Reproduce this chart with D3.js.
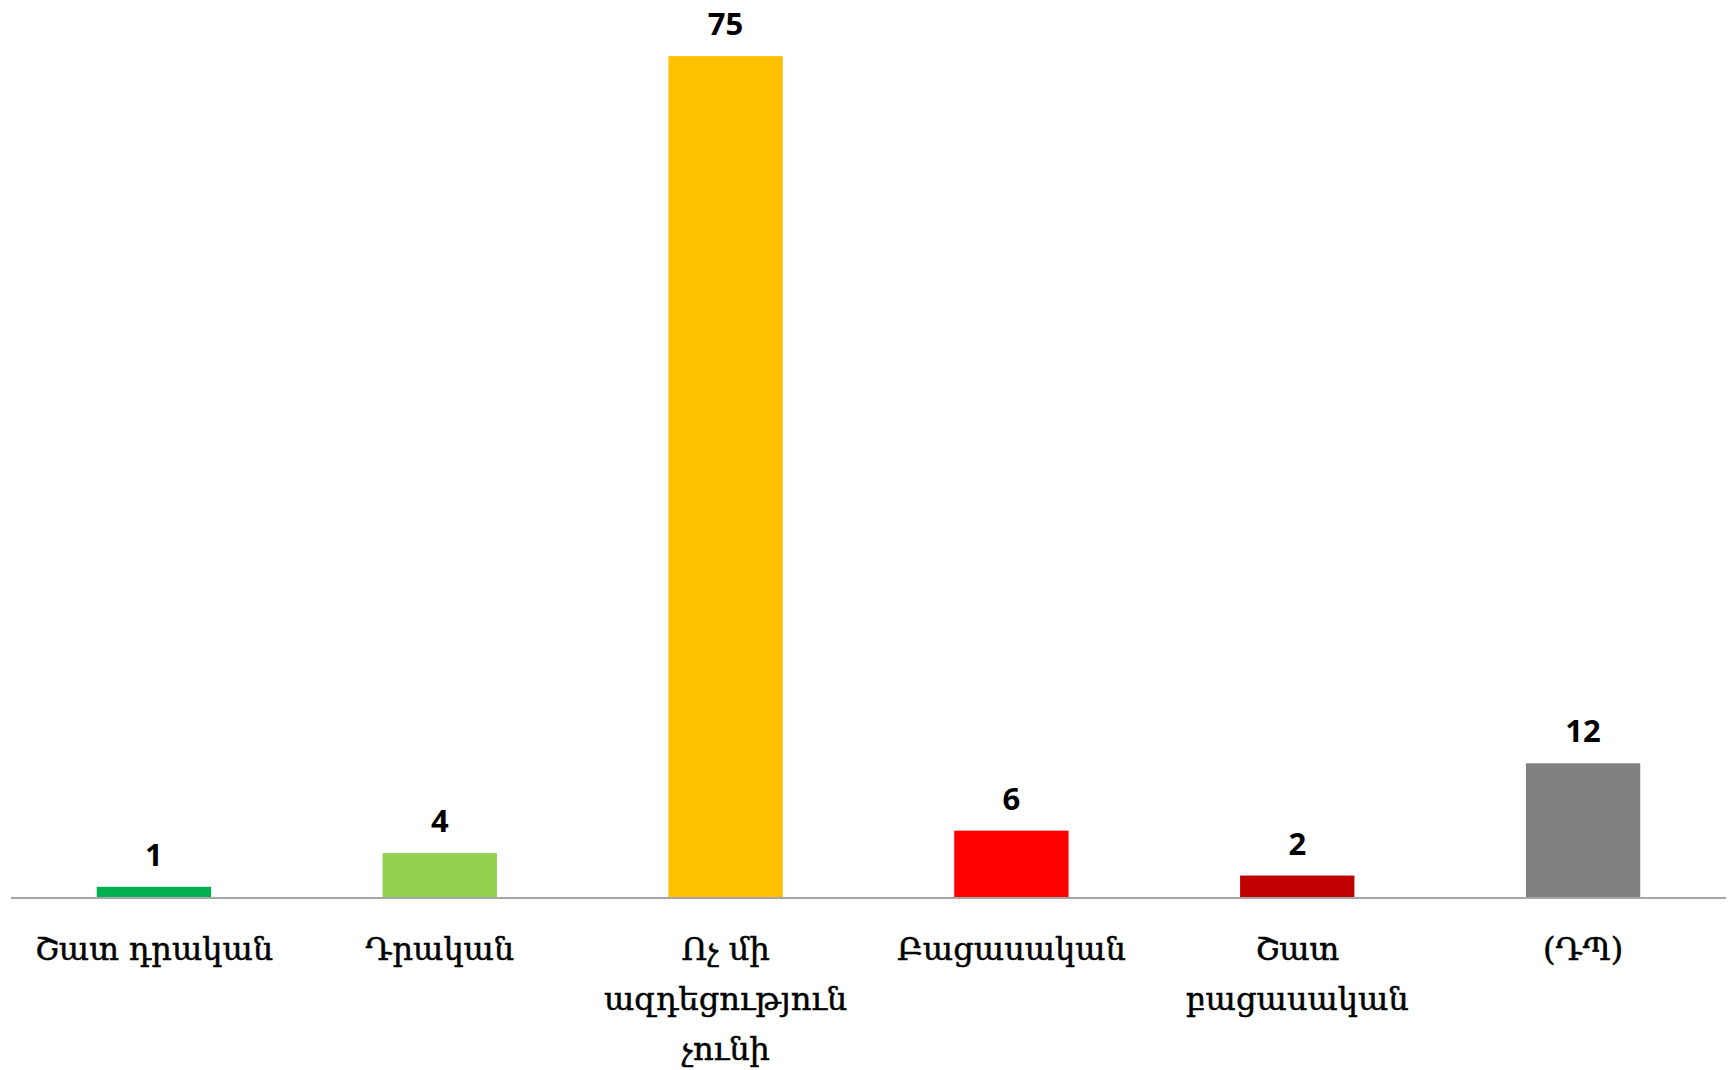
<!DOCTYPE html>
<html>
<head>
<meta charset="utf-8">
<script src="https://cdn.jsdelivr.net/npm/d3@7"></script>
<style>
  body { margin: 0; background: #fff; }
</style>
</head>
<body>
<div id="chart"></div>
<script>
// Données
const categories = ["Շատ դրական", "Դրական", "Ոչ մի\nազդեցություն\nչունի", "Բացասական", "Շատ\nբացասական", "(ԴՊ)"];
const values = [1, 4, 75, 6, 2, 12];
const barColors = ["#00B050", "#92D050", "#FFC000", "#FF0000", "#C00000", "#808080"];

const width = 1733, height = 1070;
const margin = { top: 0, right: 7, bottom: 172, left: 11 };
const axisY = height - margin.bottom;

const svg = d3.select("#chart").append("svg")
    .attr("width", width).attr("height", height);

const x = d3.scaleBand()
    .domain(categories)
    .range([margin.left, width - margin.right])
    .paddingInner(0.6).paddingOuter(0.3);

const y = d3.scaleLinear().domain([0, 80]).range([axisY, margin.top]);

// Barres
svg.selectAll("rect.bar")
    .data(values)
    .enter().append("rect")
    .attr("class", "bar")
    .attr("x", (d, i) => x(categories[i]))
    .attr("y", d => y(d))
    .attr("width", x.bandwidth())
    .attr("height", d => axisY - y(d))
    .style("fill", (d, i) => barColors[i]);

// Axe horizontal
svg.append("line")
    .attr("x1", margin.left).attr("x2", width - margin.right)
    .attr("y1", axisY).attr("y2", axisY)
    .style("stroke", "#A6A6A6").style("stroke-width", 2);

// Étiquettes de valeurs
svg.selectAll("text.val")
    .data(values)
    .enter().append("text")
    .attr("class", "val")
    .attr("x", (d, i) => x(categories[i]) + x.bandwidth() / 2)
    .attr("y", d => y(d) - 21)
    .attr("text-anchor", "middle")
    .style("font-family", "'Open Sans', sans-serif")
    .style("font-weight", "bold")
    .style("font-size", "31px")
    .style("fill", "#000")
    .text(d => d);

// Étiquettes de catégories
const labels = svg.selectAll("text.cat")
    .data(categories)
    .enter().append("text")
    .attr("class", "cat")
    .attr("text-anchor", "middle")
    .style("font-family", "'DejaVu Serif', serif")
    .style("font-size", "32px")
    .style("fill", "#000")
    .style("stroke", "#000")
    .style("stroke-width", 0.5);

labels.each(function (d) {
    const cx = x(d) + x.bandwidth() / 2;
    d.split("\n").forEach((line, i) => {
        d3.select(this).append("tspan")
            .attr("x", cx)
            .attr("y", axisY + 62 + i * 50)
            .text(line);
    });
});
</script>
</body>
</html>
